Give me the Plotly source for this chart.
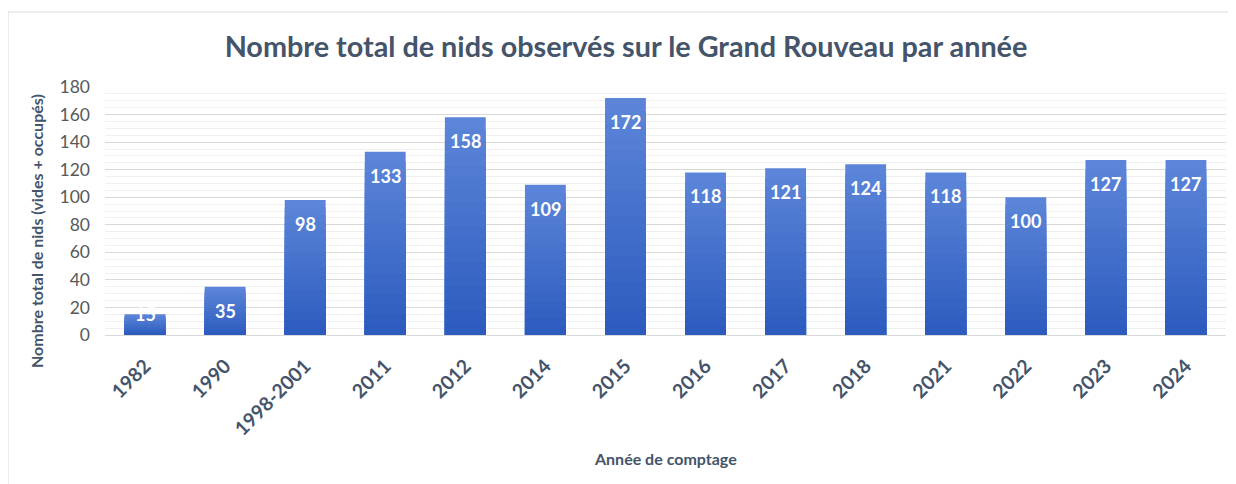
import plotly.graph_objects as go

categories = ["1982", "1990", "1998-2001", "2011", "2012", "2014", "2015",
              "2016", "2017", "2018", "2021", "2022", "2023", "2024"]
values = [15, 35, 98, 133, 158, 109, 172, 118, 121, 124, 118, 100, 127, 127]

title_text = "Nombre total de nids observés sur le Grand Rouveau par année"
x_title = "Année de comptage"
y_title = "Nombre total de nids (vides + occupés)"

FONT = "Lato"
TOP = (92, 133, 217)      # lighter at top of bar
BOTTOM = (45, 92, 190)    # darker at bottom
N = 18

# page has an 8px body margin; figure geometry compensates
W, H = 1228, 476
ML, MR, MT, MB = 97, 10, 79, 149
PLOT_W = W - ML - MR
PLOT_H = H - MT - MB
PX_PER_UNIT = PLOT_H / 180

fig = go.Figure()
for k in range(N, 0, -1):
    t = (k - 1) / (N - 1)
    c = tuple(round(BOTTOM[i] + (TOP[i] - BOTTOM[i]) * t) for i in range(3))
    fig.add_trace(go.Bar(
        x=categories, y=[v * k / N for v in values],
        marker=dict(color="rgb(%d,%d,%d)" % c, line=dict(width=0)),
        hoverinfo="skip", showlegend=False,
    ))

annotations = []
for idx, v in enumerate(values):
    small = v * PX_PER_UNIT < 40
    annotations.append(dict(
        x=idx, y=v, xref="x", yref="y", text=str(v), showarrow=False,
        yshift=0 if small else -24, yanchor="middle",
        font=dict(family=FONT, size=18, color="white", weight="bold"),
    ))

annotations.append(dict(
    text=y_title, textangle=-90, showarrow=False,
    xref="paper", yref="paper", x=(37 - 105) / PLOT_W, xanchor="center",
    y=(335 - 231) / PLOT_H, yanchor="middle",
    font=dict(family=FONT, size=16, color="#44546A", weight="bold"),
))
annotations.append(dict(
    text=x_title, showarrow=False,
    xref="paper", yref="paper", x=(665 - 105) / PLOT_W, xanchor="center",
    y=(335 - 458) / PLOT_H, yanchor="middle",
    font=dict(family=FONT, size=16, color="#44546A", weight="bold"),
))

fig.update_layout(
    width=W, height=H,
    barmode="overlay", bargap=0.49,
    paper_bgcolor="white", plot_bgcolor="white",
    margin=dict(l=ML, r=MR, t=MT, b=MB, autoexpand=False),
    font=dict(family=FONT, color="#595959"),
    title=dict(text=title_text, x=(626 - 8) / W, xanchor="center",
               y=1 - (47 - 8) / H, yanchor="middle", yref="container",
               font=dict(family=FONT, size=28.8, color="#44546A", weight="bold")),
    xaxis=dict(
        type="category", tickangle=-45, automargin=False,
        categoryorder="array", categoryarray=categories,
        tickfont=dict(family=FONT, size=19.5, color="#44546A", weight="bold"),
        showline=True, linecolor="#D9D9D9", linewidth=1,
        ticks="", showgrid=False, ticklabelstandoff=11,
    ),
    yaxis=dict(
        range=[0, 180], dtick=20, tick0=0, automargin=False,
        tickfont=dict(family=FONT, size=17.5, color="#595959"),
        showgrid=True, gridcolor="#D9D9D9", gridwidth=1,
        minor=dict(dtick=5, showgrid=True, gridcolor="#F0F0F0", gridwidth=1),
        zeroline=False, showline=False, ticks="",
        ticklabelstandoff=14,
    ),
    annotations=annotations,
    shapes=[dict(type="rect", xref="paper", yref="paper",
                 x0=(0 - ML) / PLOT_W, x1=1.2, y0=-1.0, y1=(PLOT_H + MT - 4) / PLOT_H,
                 line=dict(color="#D9D9D9", width=1), layer="below")],
)

fig.write_html("out.html")
